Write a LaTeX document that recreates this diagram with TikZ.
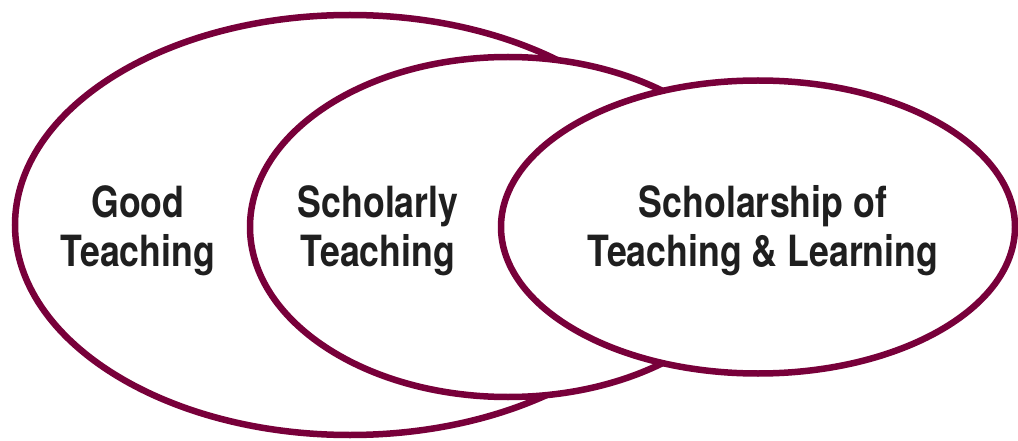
\documentclass[tikz,border=0pt]{standalone}
\usepackage{fontspec}
\setmainfont{TeX Gyre Heros}[FakeStretch=0.83]
\usepackage{tikz}
\definecolor{maroon}{RGB}{120,0,58}

\begin{document}
\begin{tikzpicture}[x=1pt,y=-1pt,
    ring/.style={draw=maroon,line width=6.5pt,fill=white},
    label/.style={align=center,font=\fontsize{43}{49}\selectfont\bfseries,text=black!88}]
    \useasboundingbox (0,0) rectangle (1018,441);
    % draw ellipses
    \draw[ring] (350,225) ellipse [x radius=335pt, y radius=210pt];
    \draw[ring] (508,227) ellipse [x radius=258pt, y radius=170pt];
    \draw[ring] (758,227) ellipse [x radius=257pt, y radius=146.5pt];
    % draw nodes
    \node[label] (good) at (138,231) {Good\\Teaching};
    \node[label] (scholarly) at (378,231) {Scholarly\\Teaching};
    \node[label] (sotl) at (763,231) {Scholarship of\\Teaching \& Learning};
\end{tikzpicture}
\end{document}
